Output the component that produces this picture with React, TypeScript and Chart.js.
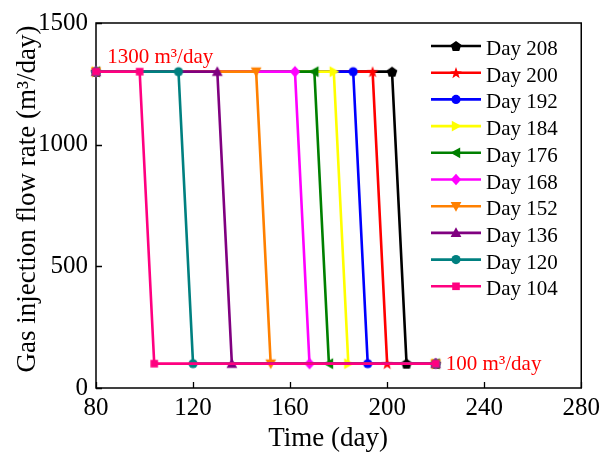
import React, { useEffect, useRef } from 'react';
import { Chart, registerables } from 'chart.js';

Chart.register(...registerables);

// ---- data ----
const seriesLabels = ['Day 208', 'Day 200', 'Day 192', 'Day 184', 'Day 176', 'Day 168', 'Day 152', 'Day 136', 'Day 120', 'Day 104'];
const dropStartTimes = [202, 194, 186, 178, 170, 162, 146, 130, 114, 98];
const dropEndTimes = [208, 200, 192, 184, 176, 168, 152, 136, 120, 104];
const startTime = 80;
const endTime = 220;
const highRate = 1300;
const lowRate = 100;
const xTicks = [80, 120, 160, 200, 240, 280];
const yTicks = [0, 500, 1000, 1500];
const highLabel = '1300 m³/day';
const lowLabel = '100 m³/day';
const highLabelTime = 84.6;
const lowLabelTime = 224.2;

// ---- styles ----
const seriesColors = ['#000000', '#ff0000', '#0000ff', '#ffff00', '#008000', '#ff00ff', '#ff8000', '#800080', '#008080', '#ff0080'];
const seriesMarkers = ['pentagon', 'star', 'circle', 'triangleRight', 'triangleLeft', 'diamond', 'triangleDown', 'triangleUp', 'circle', 'square'];
const FONT = "'Liberation Serif', 'Times New Roman', serif";

function traceMarker(ctx: CanvasRenderingContext2D, shape: string, cx: number, cy: number) {
  ctx.beginPath();
  if (shape === 'circle') {
    ctx.arc(cx, cy, 4.6, 0, Math.PI * 2);
  } else if (shape === 'square') {
    ctx.rect(cx - 3.8, cy - 3.8, 7.6, 7.6);
  } else if (shape === 'diamond') {
    ctx.moveTo(cx, cy - 5.8);
    ctx.lineTo(cx + 5.2, cy);
    ctx.lineTo(cx, cy + 5.8);
    ctx.lineTo(cx - 5.2, cy);
  } else if (shape === 'triangleUp') {
    ctx.moveTo(cx, cy - 5.6);
    ctx.lineTo(cx + 5.4, cy + 4.2);
    ctx.lineTo(cx - 5.4, cy + 4.2);
  } else if (shape === 'triangleDown') {
    ctx.moveTo(cx, cy + 5.6);
    ctx.lineTo(cx + 5.4, cy - 4.2);
    ctx.lineTo(cx - 5.4, cy - 4.2);
  } else if (shape === 'triangleRight') {
    ctx.moveTo(cx + 5.6, cy);
    ctx.lineTo(cx - 4.2, cy - 5.4);
    ctx.lineTo(cx - 4.2, cy + 5.4);
  } else if (shape === 'triangleLeft') {
    ctx.moveTo(cx - 5.6, cy);
    ctx.lineTo(cx + 4.2, cy - 5.4);
    ctx.lineTo(cx + 4.2, cy + 5.4);
  } else if (shape === 'pentagon') {
    for (let k = 0; k < 5; k++) {
      const a = -Math.PI / 2 + (k * 2 * Math.PI) / 5;
      const px = cx + 5.6 * Math.cos(a);
      const py = cy + 5.6 * Math.sin(a) + 0.5;
      if (k === 0) ctx.moveTo(px, py); else ctx.lineTo(px, py);
    }
  } else if (shape === 'star') {
    for (let k = 0; k < 10; k++) {
      const a = -Math.PI / 2 + (k * Math.PI) / 5;
      const r = k % 2 === 0 ? 6.2 : 2.5;
      const px = cx + r * Math.cos(a);
      const py = cy + r * Math.sin(a) + 0.6;
      if (k === 0) ctx.moveTo(px, py); else ctx.lineTo(px, py);
    }
  }
  ctx.closePath();
}

function makeMarkerCanvas(shape: string, color: string): HTMLCanvasElement {
  const c = document.createElement('canvas');
  c.width = 16;
  c.height = 16;
  const ctx = c.getContext('2d')!;
  ctx.fillStyle = color;
  traceMarker(ctx, shape, 8, 8);
  ctx.fill();
  return c;
}

export default function App() {
  const ref = useRef<HTMLCanvasElement | null>(null);

  useEffect(() => {
    if (!ref.current) return;
    const markerCanvases = seriesMarkers.map((m, i) => makeMarkerCanvas(m, seriesColors[i]));

    const datasets = seriesLabels.map((label, i) => ({
      label,
      data: [
        { x: startTime, y: highRate },
        { x: dropStartTimes[i], y: highRate },
        { x: dropEndTimes[i], y: lowRate },
        { x: endTime, y: lowRate },
      ],
      borderColor: seriesColors[i],
      backgroundColor: seriesColors[i],
      borderWidth: 2.6,
      pointStyle: markerCanvases[i],
      pointRadius: 5,
      tension: 0,
      fill: false,
      clip: false as any,
      order: seriesLabels.length - 1 - i,
    }));

    const framePlugin = {
      id: 'frame',
      beforeDatasetsDraw(chart: any) {
        const { ctx, chartArea } = chart;
        const xs = chart.scales.x;
        const ys = chart.scales.y;
        ctx.save();
        ctx.strokeStyle = '#000';
        ctx.lineWidth = 1.5;
        ctx.strokeRect(chartArea.left, chartArea.top, chartArea.right - chartArea.left, chartArea.bottom - chartArea.top);
        ctx.lineWidth = 1.3;
        ctx.beginPath();
        xTicks.forEach((t) => {
          const px = Math.round(xs.getPixelForValue(t)) + 0.5;
          ctx.moveTo(px, chartArea.bottom);
          ctx.lineTo(px, chartArea.bottom - 6);
        });
        yTicks.forEach((t) => {
          const py = Math.round(ys.getPixelForValue(t)) + 0.5;
          ctx.moveTo(chartArea.left, py);
          ctx.lineTo(chartArea.left + 6, py);
        });
        ctx.stroke();

        // axis titles
        ctx.fillStyle = '#000';
        ctx.font = `27px ${FONT}`;
        ctx.textAlign = 'center';
        ctx.textBaseline = 'alphabetic';
        ctx.fillText('Time (day)', 328, 446);
        ctx.save();
        ctx.translate(35, 199);
        ctx.rotate(-Math.PI / 2);
        ctx.fillText('Gas injection flow rate (m³/day)', 0, 0);
        ctx.restore();
        ctx.restore();
      },
      afterDatasetsDraw(chart: any) {
        const { ctx } = chart;
        const xs = chart.scales.x;
        const ys = chart.scales.y;
        ctx.save();
        // annotations
        ctx.fillStyle = '#ff0000';
        ctx.font = `21px ${FONT}`;
        ctx.textAlign = 'left';
        ctx.textBaseline = 'alphabetic';
        ctx.fillText(highLabel, xs.getPixelForValue(highLabelTime), ys.getPixelForValue(highRate) - 9);
        ctx.fillText(lowLabel, xs.getPixelForValue(lowLabelTime), ys.getPixelForValue(lowRate) + 6);

        // legend
        const rowTop = 46;
        const rowGap = 26.7;
        seriesLabels.forEach((label, i) => {
          const y = rowTop + i * rowGap;
          ctx.strokeStyle = seriesColors[i];
          ctx.lineWidth = 2.6;
          ctx.beginPath();
          ctx.moveTo(431, y);
          ctx.lineTo(481, y);
          ctx.stroke();
          ctx.fillStyle = seriesColors[i];
          traceMarker(ctx, seriesMarkers[i], 456, y);
          ctx.fill();
          ctx.fillStyle = '#000';
          ctx.fillText(label, 486, y + 9);
        });
        ctx.restore();
      },
    };

    const chart = new Chart(ref.current, {
      type: 'line',
      data: { datasets: datasets as any },
      options: {
        responsive: false,
        animation: false,
        devicePixelRatio: 1,
        layout: { padding: { top: 19, right: 22, left: 0, bottom: 0 } },
        plugins: { legend: { display: false }, tooltip: { enabled: false } },
        scales: {
          x: {
            type: 'linear',
            min: 80,
            max: 280,
            afterFit: (s: any) => { s.height = 64; },
            afterBuildTicks: (s: any) => { s.ticks = xTicks.map((v) => ({ value: v })); },
            grid: { display: false, drawTicks: false },
            border: { display: false },
            ticks: { color: '#000', font: { family: FONT, size: 25 }, padding: 5, maxRotation: 0, callback: (v: any) => String(v) },
          },
          y: {
            type: 'linear',
            min: 0,
            max: 1500,
            afterFit: (s: any) => { s.width = 96; },
            afterBuildTicks: (s: any) => { s.ticks = yTicks.map((v) => ({ value: v })); },
            grid: { display: false, drawTicks: false },
            border: { display: false },
            ticks: { color: '#000', font: { family: FONT, size: 25 }, padding: 8, callback: (v: any) => String(v) },
          },
        },
      },
      plugins: [framePlugin],
    });
    return () => chart.destroy();
  }, []);

  return (
    <canvas
      ref={ref}
      width={605}
      height={452}
      style={{ position: 'absolute', left: 0, top: 0, width: 605, height: 452 }}
    />
  );
}
